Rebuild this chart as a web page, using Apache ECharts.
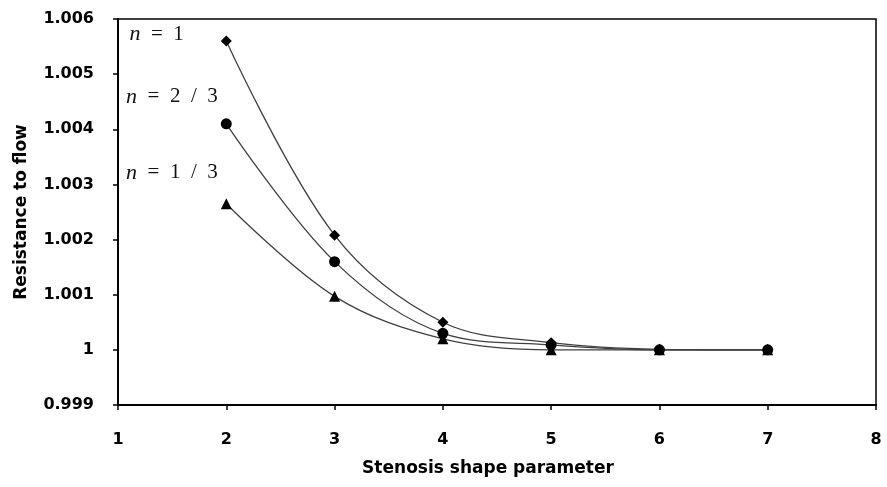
<!DOCTYPE html>
<html>
<head>
<meta charset="utf-8">
<script src="https://cdn.jsdelivr.net/npm/echarts@6/dist/echarts.min.js"></script>
<style>
  html, body { margin: 0; padding: 0; background: #fff; }
  #main { width: 887px; height: 487px; }
</style>
</head>
<body>
<div id="main"></div>
<script>
var shapeParam = [2, 3, 4, 5, 6, 7];
// n = 1
var resN1 = [1.00560, 1.00208, 1.00050, 1.00013, 1.00001, 1.00000];
// n = 2/3
var resN23 = [1.00410, 1.00160, 1.00030, 1.00009, 1.00000, 1.00000];
// n = 1/3
var resN13 = [1.00265, 1.00097, 1.00020, 1.00000, 1.00000, 1.00000];
var curveNames = ['n = 1', 'n = 2 / 3', 'n = 1 / 3'];

var myChart = echarts.init(document.getElementById('main'));

var sp = '\u2002';
function pairs(values, labelText, labelOffset, labelDist) {
    return values.map(function (v, i) {
        var item = { value: [shapeParam[i], v] };
        if (i === 0) {
            item.label = {
                show: true,
                position: 'left',
                distance: labelDist,
                offset: labelOffset,
                formatter: labelText,
                fontFamily: 'Liberation Serif',
                fontSize: 21,
                color: '#111',
                rich: {
                    i: { fontFamily: 'Liberation Serif', fontStyle: 'italic', fontSize: 22, color: '#111' }
                }
            };
        }
        return item;
    });
}

var lineStyle = { color: '#404040', width: 1.3 };
var itemStyle = { color: '#000' };
var boldFont = 'DejaVu Sans';

var option = {
    backgroundColor: '#fff',
    animation: false,
    grid: { left: 118, right: 11, top: 19, bottom: 82, show: true, borderColor: '#000', borderWidth: 1.5 },
    xAxis: {
        type: 'value',
        min: 1,
        max: 8,
        interval: 1,
        name: 'Stenosis shape parameter',
        nameLocation: 'middle',
        nameGap: 55,
        nameTextStyle: { fontFamily: boldFont, fontWeight: 'bold', fontSize: 17, color: '#000', padding: [0, 18, 0, 0] },
        axisLine: { lineStyle: { color: '#000', width: 2 } },
        axisTick: { inside: false, length: 5, lineStyle: { color: '#000', width: 1.5 } },
        axisLabel: { margin: 27, fontFamily: boldFont, fontWeight: 'bold', fontSize: 16, color: '#000' },
        splitLine: { show: false }
    },
    yAxis: {
        type: 'value',
        min: 0.999,
        max: 1.006,
        interval: 0.001,
        name: 'Resistance to flow',
        nameLocation: 'middle',
        nameGap: 88,
        nameTextStyle: { fontFamily: boldFont, fontWeight: 'bold', fontSize: 17, color: '#000' },
        axisLine: { show: true, lineStyle: { color: '#000', width: 2 } },
        axisTick: { show: true, inside: false, length: 5, lineStyle: { color: '#000', width: 1.5 } },
        axisLabel: {
            margin: 24,
            fontFamily: boldFont,
            fontWeight: 'bold',
            fontSize: 16,
            color: '#000',
            formatter: function (v) {
                var r = Math.round(v * 1000) / 1000;
                return r === 1 ? '1' : r.toFixed(3);
            }
        },
        splitLine: { show: false }
    },
    series: [
        {
            name: curveNames[0],
            type: 'line',
            smooth: 0.35,
            symbol: 'diamond',
            symbolSize: 11,
            lineStyle: lineStyle,
            itemStyle: itemStyle,
            data: pairs(resN1, '{i|n}' + sp + '=' + sp + '1', [0, -7], 37)
        },
        {
            name: curveNames[1],
            type: 'line',
            smooth: 0.35,
            symbol: 'circle',
            symbolSize: 11,
            lineStyle: lineStyle,
            itemStyle: itemStyle,
            data: pairs(resN23, '{i|n}' + sp + '=' + sp + '2' + sp + '/' + sp + '3', [0, -27], 3)
        },
        {
            name: curveNames[2],
            type: 'line',
            smooth: 0.35,
            symbol: 'triangle',
            symbolSize: 11,
            lineStyle: lineStyle,
            itemStyle: itemStyle,
            data: pairs(resN13, '{i|n}' + sp + '=' + sp + '1' + sp + '/' + sp + '3', [0, -31], 3)
        }
    ]
};

myChart.setOption(option);
</script>
</body>
</html>
